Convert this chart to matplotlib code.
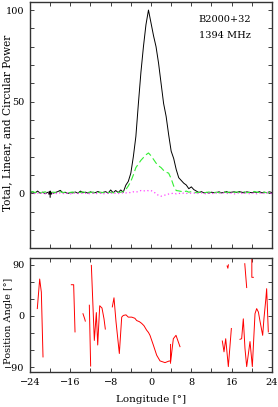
import numpy as np
import matplotlib
matplotlib.use("Agg")
import matplotlib.pyplot as plt
from matplotlib.ticker import MultipleLocator

# ---------------- data ----------------
lon = np.arange(-24.0, 24.01, 0.5)

total_I = [0.3, 0.8, 0.2, 1.2, 0.1, 0.6, -0.2, 0.5, 0.8, 0.0, 0.4, 0.9, 1.6, 0.3, 0.5, -0.1,
           0.4, 0.2, 0.7, 0.0, 1.2, 0.3, 0.6, 0.1, 0.8, 0.2, 0.4, 1.0, 0.2, 0.5, 0.9, 0.1,
           1.8, 0.3, 1.5, 0.4, 1.8, 0.6,
           4.4, 6.5, 11, 20, 31, 49, 66, 80, 92, 100, 93, 86, 80, 71, 60, 49, 42, 32, 23,
           19, 13, 8.5, 7, 5.5, 4.5, 2.5, 3.5,
           2.0, 1.2, 0.4, 0.9, 0.2, 0.5, 0.1, 0.6, 0.3, 0.4, 0.8, 0.2, 0.5, 0.9, 0.3, 0.6,
           0.8, 0.4, 0.9, 0.6, 0.2, 0.8, 0.5, 0.3, 0.7, 0.4, 0.9, 0.2, 0.6, 0.3, 0.8, 0.4]

linear_L = [0.6, 0.9, 0.4, 0.7, 0.3, 0.5, 0.8, 0.4, 0.2, 0.6, 0.5, 0.3, 0.9, 0.4, 0.6, 0.2,
            0.5, 0.7, 0.3, 0.5, 0.4, 0.8, 0.3, 0.6, 0.4, 0.7, 0.2, 0.5, 0.6, 0.3, 0.8, 0.4,
            0.5, 0.3, 0.7, 0.4, 0.6, 0.8,
            2.0, 4.0, 6.5, 10, 14, 16, 18, 19.5, 21, 22, 20.5, 18.5, 16.5, 15, 14, 12.5, 11.5,
            11, 8, 4, 1.5, 1.3, 1.0, 0.8, 1.2, 0.6, 0.9,
            0.5, 0.3, 0.6, 0.4, 0.2, 0.5, 0.7, 0.3, 0.4, 0.6, 0.3, 0.5, 0.8, 0.4, 0.6, 0.9,
            0.5, 0.7, 0.4, 0.6, 0.8, 0.3, 0.5, 0.7, 1.0, 0.6, 0.4, 0.8, 0.5, 0.3, 0.6, 0.4]

circular_V = [-0.2, 0.1, -0.3, 0.0, -0.1, 0.2, -0.2, -0.4, 0.1, -0.1, 0.0, -0.3, 0.2, -0.1,
              -0.2, 0.1, -0.3, 0.0, 0.2, -0.1, -0.2, 0.1, 0.0, -0.3, -0.1, 0.2, -0.2, 0.0,
              0.1, -0.3, -0.1, 0.0, 0.2, -0.2, 0.1, -0.1, 0.0, 0.3,
              0.2, 0.5, 0.3, 0.8, 0.6, 1.0, 1.5, 1.2, 1.6, 1.4, 1.5, 0.8, -0.2, -1.2, -1.6,
              -1.2, -0.8, -0.4, -0.2, 0.1, -0.3, 0.0, -0.2, 0.1, -0.1, 0.2, 0.0,
              0.1, -0.2, 0.0, 0.2, -0.1, -0.3, 0.1, 0.0, -0.2, 0.2, 0.1, -0.1, 0.3, 0.0,
              -0.2, 0.1, -0.4, 0.2, 0.0, -0.1, 0.3, 0.1, -0.2, 0.0, 0.2, -0.3, 0.1, 0.0,
              -0.1, 0.4, 0.2, -0.2]

nan = np.nan
pa_lon = [-22.55, -22.08, -21.75, -21.42, nan,
          -15.8, -15.34, -15.07, nan,
          -13.49, -13.15, -13.03, nan,
          -12.23, -11.97, nan,
          -11.83, -11.24, -10.84, -10.57, -10.17, -9.72, -9.32, -9.06, nan,
          -7.67, -7.34, -6.94, -6.28, -5.81, -5.49, -4.96, -4.5, -3.83, -3.2, -2.84, -2.3,
          -1.85, -1.4, -0.86, -0.5, -0.2, 0.46, 1.13, 1.79, 2.78, 3.64, 3.9, 4.43, 4.96,
          5.75, nan,
          3.88, 3.88, nan,
          14.15, 14.48, 14.82, 15.34, 15.94, nan,
          15.1, 15.25, 15.35, nan,
          17.65, 17.98, 18.31, 18.64, 18.98, 19.64, 20.1, 20.63, 20.96, 21.3, 21.64, 22.15,
          22.4, 22.78, 22.94, 23.27, nan,
          18.6, 18.8, 18.98, nan,
          20.0, 20.0, 20.3]
pa_deg = [13, 65, 42, -72, nan,
          55, 55, -28, nan,
          4, -5, -9, nan,
          19, -88, nan,
          89, -43, 6, -51, 18, 14, -5, -23, nan,
          16, 32, -10, -66, -2, 1, 2, -2, -2, -4, -8, -10,
          -13, -17, -25, -29, -34, -51, -69, -79, -82, -79, -80, -40, -34,
          -54, nan,
          -50, -83, nan,
          -44, -63, -40, -89, -22, nan,
          88, 84, 90, nan,
          -41, -40, -5, -57, -89, -45, -89, 4, 13, 7, -10, -34,
          -5, 30, 48, -28, nan,
          92, 70, 50, nan,
          102, 68, 68]

xticks = [-24, -16, -8, 0, 8, 16, 24]
pulsar_name = "B2000+32"
freq_label = "1394 MHz"

# ---------------- figure ----------------
plt.rcParams['font.family'] = ['DejaVu Serif']
fig = plt.figure(figsize=(2.78, 4.07), dpi=100)
ax1 = fig.add_axes([0.1079, 0.3914, 0.8705, 0.6037])
ax2 = fig.add_axes([0.1079, 0.0853, 0.8705, 0.2801])

ax1.plot(lon, total_I, color='black', lw=0.7)
ax1.plot(lon, linear_L, color='#33ee33', lw=0.8, ls=(0, (6, 3)))
ax1.plot(lon, circular_V, color='#ff44ff', lw=0.9, ls=(0, (1, 2)))
ax1.annotate('', xy=(-20, 1.8), xytext=(-20, -2.2),
             arrowprops=dict(arrowstyle='-|>', lw=0.8, color='black', mutation_scale=5,
                             shrinkA=0, shrinkB=0))
ax1.text(9.5, 95, pulsar_name, fontsize=7, va='center', ha='left')
ax1.text(9.5, 86, freq_label, fontsize=7, va='center', ha='left')

ax1.set_xlim(-24, 24)
ax1.set_ylim(-29.7, 104.4)
ax1.yaxis.set_major_locator(MultipleLocator(50))
ax1.yaxis.set_minor_locator(MultipleLocator(10))
ax1.set_xticks(xticks)
ax1.xaxis.set_minor_locator(MultipleLocator(4))
ax1.set_xticklabels([])
ax1.set_ylabel("Total, Linear, and Circular Power", fontsize=7.6)
ax1.yaxis.set_label_coords(-0.072, 0.51)

ax2.plot(pa_lon, pa_deg, color='red', lw=0.7)
ax2.set_xlim(-24, 24)
ax2.set_ylim(-99, 101.5)
ax2.set_yticks([-90, 0, 90])
ax2.yaxis.set_minor_locator(MultipleLocator(30))
ax2.set_xticks(xticks)
ax2.xaxis.set_minor_locator(MultipleLocator(4))
ax2.set_xlabel("Longitude [°]", fontsize=7.5)
ax2.xaxis.set_label_coords(0.5, -0.2)
ax2.set_ylabel("Position Angle [°]", fontsize=7)
ax2.yaxis.set_label_coords(-0.072, 0.45)

for ax in (ax1, ax2):
    ax.tick_params(which='both', direction='in', top=True, right=True,
                   length=3, width=0.6, labelsize=7, pad=4, color='#222222')
    for s in ax.spines.values():
        s.set_linewidth(1.0)
        s.set_color('#333333')

fig.savefig("out.png", dpi=100)
